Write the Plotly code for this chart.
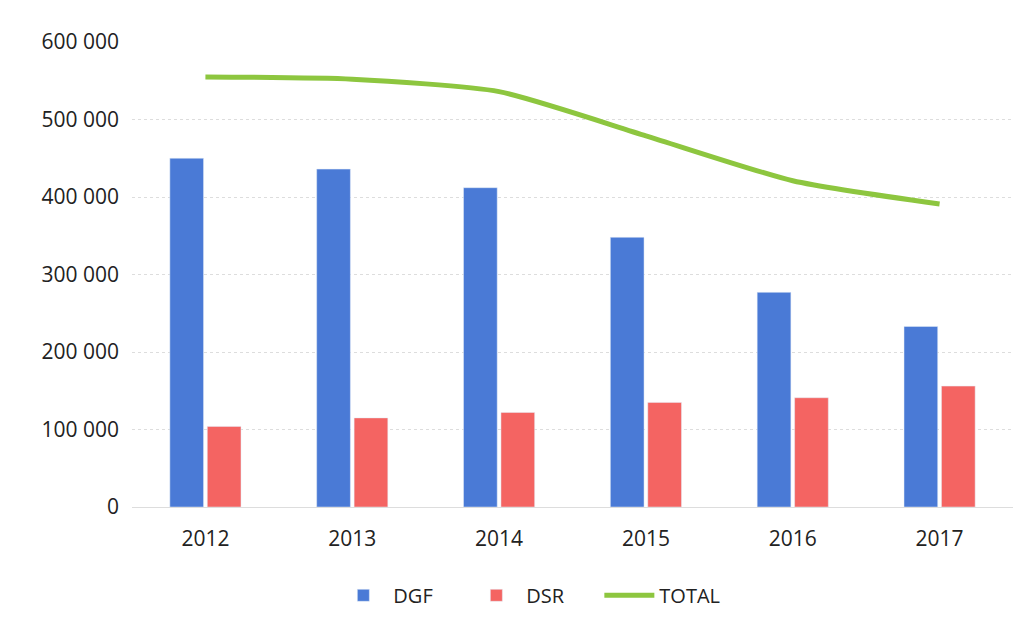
import plotly.graph_objects as go

years = ["2012", "2013", "2014", "2015", "2016", "2017"]
dgf = [450000, 436000, 412000, 348000, 277000, 233000]
dsr = [104000, 115000, 122000, 135000, 141000, 156000]
total = [555000, 552000, 536000, 479000, 421000, 391000]
y_ticks = [0, 100000, 200000, 300000, 400000, 500000, 600000]

fig = go.Figure()
fig.add_trace(go.Bar(x=years, y=dgf, name="DGF", marker_color="#4A7AD6"))
fig.add_trace(go.Bar(x=years, y=dsr, name="DSR", marker_color="#F46462"))
fig.add_trace(go.Scatter(x=years, y=total, name="TOTAL", mode="lines",
                         line=dict(color="#8DC63F", width=5, shape="spline", smoothing=0.6)))

fig.update_layout(
    width=1026, height=624,
    paper_bgcolor="white", plot_bgcolor="white",
    margin=dict(l=124, r=21, t=34, b=125),
    barmode="group", bargap=0.49, bargroupgap=0.1,
    separators=", ",
    font=dict(family="Open Sans, Noto Sans, sans-serif", size=21, color="#222222"),
    showlegend=True,
    legend=dict(orientation="h", x=0.455, xanchor="center", y=-0.148, yanchor="top",
                font=dict(size=20), itemwidth=50,
                entrywidth=68, entrywidthmode="pixels"),
)
fig.update_yaxes(range=[0, 600000], tickvals=y_ticks, tickformat=",d",
                 showgrid=True, gridcolor="#DDDDDD", gridwidth=1, griddash="dot",
                 zeroline=False, showline=False, ticks="", ticklabelstandoff=12)
fig.update_xaxes(showline=True, linecolor="#DDDDDD", linewidth=1, ticks="",
                 ticklabelstandoff=13)

fig.write_html("out.html")
